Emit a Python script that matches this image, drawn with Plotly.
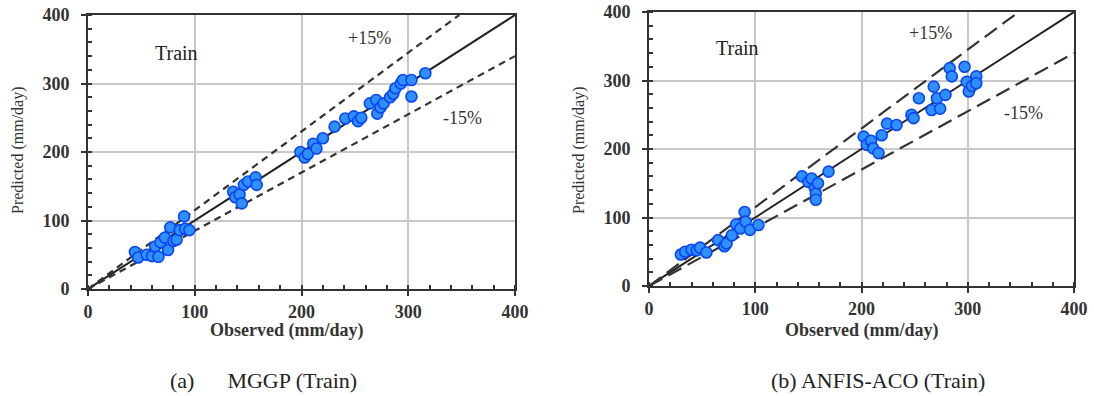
import plotly.graph_objects as go

# ---------------- data ----------------
mggp_obs = [44, 47, 55, 60, 63, 66, 68, 72, 75, 77, 80, 83, 86, 90, 91, 95,
            136, 138, 142, 144, 146, 150, 157, 158,
            199, 203, 206, 211, 214, 220, 231, 241, 249, 253, 256, 264, 270, 271,
            274, 277, 283, 286, 288, 293, 295, 303, 303, 316]
mggp_pred = [54, 46, 50, 48, 62, 47, 68, 75, 57, 90, 70, 72, 86, 106, 88, 86,
             142, 134, 138, 125, 152, 157, 163, 152,
             200, 192, 197, 212, 205, 220, 237, 249, 252, 245, 250, 271, 276, 256,
             265, 271, 280, 285, 293, 300, 305, 305, 281, 315]

anfis_obs = [30, 34, 40, 45, 48, 54, 65, 71, 73, 78, 82, 86, 90, 91, 95, 103,
             144, 150, 153, 156, 157, 157, 159, 169,
             202, 205, 209, 211, 216, 219, 224, 233, 247, 249, 254, 266, 268, 271,
             274, 279, 283, 285, 297, 299, 301, 304, 308, 308]
anfis_pred = [46, 50, 53, 52, 56, 49, 67, 58, 62, 74, 90, 84, 108, 94, 82, 89,
              160, 152, 157, 143, 135, 126, 150, 167,
              218, 206, 212, 201, 194, 220, 237, 235, 250, 245, 274, 257, 291, 274,
              259, 279, 318, 306, 320, 298, 284, 292, 306, 296]

axis_range = [0, 400]
tick_vals = [0, 100, 200, 300, 400]
band_ratios = [1.15, 0.85]
band_labels = ["+15%", "-15%"]

FONT = "Liberation Serif"
W, H = 1094, 396

fig = go.Figure()


def add_panel(xa, ya, obs, pred, dash):
    # 1:1 line
    fig.add_trace(go.Scatter(x=axis_range, y=axis_range, mode="lines",
                             line=dict(color="#222", width=2),
                             xaxis=xa, yaxis=ya, hoverinfo="skip"))
    # +/-15% lines
    for r in band_ratios:
        xe = min(axis_range[1], axis_range[1] / r)
        fig.add_trace(go.Scatter(x=[0, xe], y=[0, xe * r], mode="lines",
                                 line=dict(color="#333", width=2.2, dash=dash),
                                 xaxis=xa, yaxis=ya, hoverinfo="skip"))
    fig.add_trace(go.Scatter(x=obs, y=pred, mode="markers",
                             marker=dict(size=11, color="#2f8fff",
                                         line=dict(color="#0a46f0", width=1.6)),
                             xaxis=xa, yaxis=ya))


add_panel("x", "y", mggp_obs, mggp_pred, "7px,5px")
add_panel("x2", "y2", anfis_obs, anfis_pred, "15px,7px")


def axis_style(domain, anchor):
    return dict(
        domain=domain, anchor=anchor, range=axis_range, tickvals=tick_vals,
        automargin=False,
        showgrid=True, gridcolor="#c8c8c8", gridwidth=1.5,
        showline=True, linecolor="#333", linewidth=2, mirror=True,
        ticks="outside", ticklen=5, tickwidth=2, tickcolor="#333",
        minor=dict(dtick=20, ticks="inside", ticklen=4, tickwidth=1.5,
                   tickcolor="#333", showgrid=False),
        tickfont=dict(family=FONT, size=18, color="#333", weight="bold"),
        zeroline=False, fixedrange=True,
    )


fig.update_layout(
    width=W, height=H, margin=dict(l=0, r=0, t=0, b=0),
    paper_bgcolor="white", plot_bgcolor="white", showlegend=False,
    xaxis=axis_style([88 / W, 515 / W], "y"),
    yaxis=axis_style([1 - 289 / H, 1 - 15 / H], "x"),
    xaxis2=axis_style([649 / W, 1074 / W], "y2"),
    yaxis2=axis_style([1 - 286 / H, 1 - 12 / H], "x2"),
)
fig.update_yaxes(ticklabelstandoff=8)
fig.update_xaxes(ticklabelstandoff=0)

ann = []
# in-plot text
for xr, yr, tx, ty, px, py, mx, my in [
    ("x", "y", 83, 344, 264, 366, 351, 250),
    ("x2", "y2", 83, 347, 265, 369, 352, 252),
]:
    ann.append(dict(xref=xr, yref=yr, x=tx, y=ty, text="Train", showarrow=False,
                    xanchor="center", yanchor="middle",
                    font=dict(family=FONT, size=20, color="#222")))
    ann.append(dict(xref=xr, yref=yr, x=px, y=py, text=band_labels[0], showarrow=False,
                    xanchor="center", yanchor="middle",
                    font=dict(family=FONT, size=18, color="#333")))
    ann.append(dict(xref=xr, yref=yr, x=mx, y=my, text=band_labels[1], showarrow=False,
                    xanchor="center", yanchor="middle",
                    font=dict(family=FONT, size=18, color="#333")))

# axis titles and captions
for cx, capx, cap in [(286, 263, "(a)&nbsp;&nbsp;&nbsp;&nbsp;&nbsp;&nbsp;MGGP (Train)"),
                      (861, 878, "(b) ANFIS-ACO (Train)")]:
    ann.append(dict(xref="paper", yref="paper", x=cx / W, y=1 - 330 / H,
                    text="Observed (mm/day)", showarrow=False,
                    xanchor="center", yanchor="middle",
                    font=dict(family=FONT, size=18, color="#333", weight="bold")))
    ann.append(dict(xref="paper", yref="paper", x=capx / W, y=1 - 380 / H,
                    text=cap, showarrow=False,
                    xanchor="center", yanchor="middle",
                    font=dict(family=FONT, size=22, color="#222")))
for yx in [18, 579]:
    ann.append(dict(xref="paper", yref="paper", x=yx / W, y=1 - 150 / H,
                    text="Predicted (mm/day)", textangle=-90, showarrow=False,
                    xanchor="center", yanchor="middle",
                    font=dict(family=FONT, size=16, color="#333")))

fig.update_layout(annotations=ann)
fig.write_html("out.html")
